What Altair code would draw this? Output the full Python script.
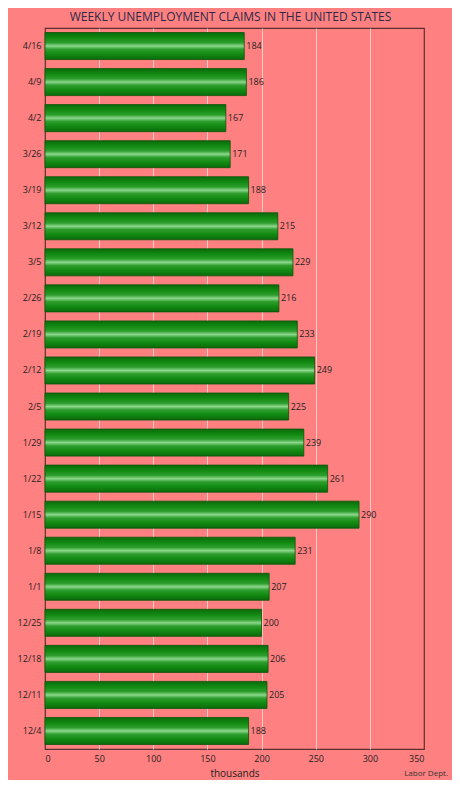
import altair as alt
import pandas as pd

weeks = ["4/16", "4/9", "4/2", "3/26", "3/19", "3/12", "3/5", "2/26", "2/19", "2/12",
         "2/5", "1/29", "1/22", "1/15", "1/8", "1/1", "12/25", "12/18", "12/11", "12/4"]
claims = [184, 186, 167, 171, 188, 215, 229, 216, 233, 249,
          225, 239, 261, 290, 231, 207, 200, 206, 205, 188]
x_ticks = [0, 50, 100, 150, 200, 250, 300, 350]

df = pd.DataFrame({"week": weeks, "claims": claims})

BG = "#FF8080"

grad = alt.Gradient(
    gradient="linear", x1=0, y1=0, x2=0, y2=1,
    stops=[
        alt.GradientStop(color="#0B6A0B", offset=0.0),
        alt.GradientStop(color="#128A12", offset=0.2),
        alt.GradientStop(color="#2E9E2E", offset=0.38),
        alt.GradientStop(color="#8CD88C", offset=0.5),
        alt.GradientStop(color="#2E9E2E", offset=0.62),
        alt.GradientStop(color="#128A12", offset=0.8),
        alt.GradientStop(color="#0B6A0B", offset=1.0),
    ],
)

y_enc = alt.Y("week:N", sort=weeks, title=None,
              scale=alt.Scale(paddingInner=0.25, paddingOuter=0.125),
              axis=alt.Axis(labelFontSize=9, labelColor="#222222", labelPadding=4,
                            ticks=False, domain=False, labelFont="Open Sans"))
x_enc = alt.X("claims:Q", title="thousands",
              scale=alt.Scale(domain=[0, 350], nice=False),
              axis=alt.Axis(values=x_ticks, labelFontSize=9, labelColor="#222222",
                            ticks=False, domain=False, grid=True,
                            gridColor=alt.condition("datum.value == 0 || datum.value == 350",
                                                    alt.value("transparent"),
                                                    alt.value("#FFCACA")),
                            gridWidth=1, labelPadding=5, titleFontSize=10,
                            titleFontWeight="normal", titleColor="#222222",
                            titlePadding=5, labelFont="Open Sans", titleFont="Open Sans"))

bars = alt.Chart(df).mark_bar(color=grad, stroke="#0A560A", strokeWidth=0.8).encode(
    x=x_enc, y=y_enc
)

labels = alt.Chart(df).mark_text(align="left", baseline="middle", dx=2, fontSize=9,
                                 color="#222222", font="Open Sans").encode(
    x=alt.X("claims:Q"), y=alt.Y("week:N", sort=weeks), text=alt.Text("claims:Q")
)

source = alt.Chart(pd.DataFrame({"t": ["Labor Dept."]})).mark_text(
    align="right", baseline="bottom", fontSize=8, color="#333333", font="Open Sans"
).encode(x=alt.value(403), y=alt.value(750), text="t:N")

chart = alt.layer(bars, labels, source).properties(
    width=379, height=721,
    background=BG,
    autosize=alt.AutoSizeParams(type="none"),
    padding={"left": 37, "top": 20, "right": 28, "bottom": 31},
    title=alt.TitleParams("WEEKLY UNEMPLOYMENT CLAIMS IN THE UNITED STATES",
                          fontSize=12, fontWeight="normal", color="#2A2A48",
                          font="Open Sans", anchor="middle", frame="group",
                          offset=4, dx=-4),
).configure_view(stroke="#5A3030", strokeWidth=1.2, fill=BG)

chart.save("out.html", embed_options={"renderer": "svg", "actions": False})
